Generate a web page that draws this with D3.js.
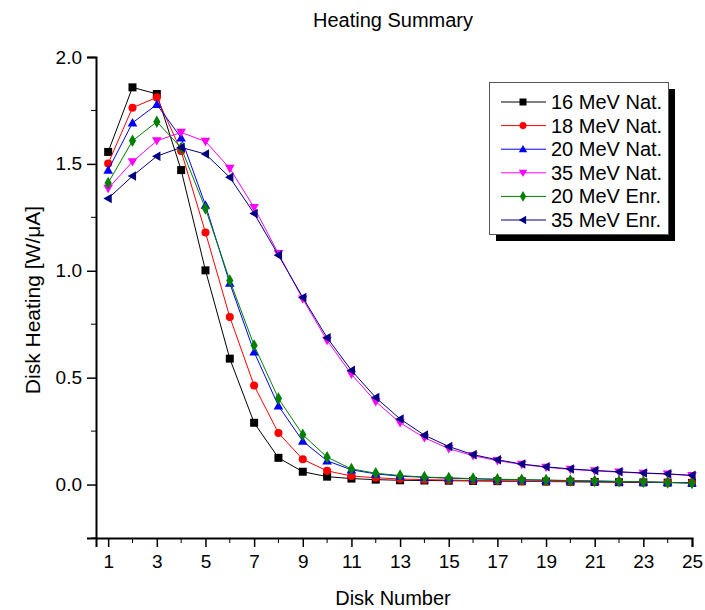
<!DOCTYPE html>
<html lang="en">

<head>
    <meta charset="UTF-8">
    <title>Heating Summary</title>
    <script src="https://cdn.jsdelivr.net/npm/d3@7/dist/d3.min.js"></script>
    <style>
        * {
            margin: 0;
        }

        body {
            background: #fff;
            font-family: Arial, "Liberation Sans", sans-serif;
        }
    </style>
</head>

<body>
    <div id="chart"></div>
    <script>
        // disk numbers 1..25
        var disks = d3.range(1, 26);

        var nat16 = [1.556, 1.858, 1.827, 1.471, 1.002, 0.589, 0.289, 0.125, 0.060, 0.037, 0.028, 0.023, 0.020, 0.019, 0.018, 0.017, 0.016, 0.015, 0.014, 0.013, 0.012, 0.011, 0.010, 0.009, 0.008];
        var nat18 = [1.502, 1.763, 1.811, 1.560, 1.179, 0.784, 0.463, 0.241, 0.118, 0.064, 0.040, 0.032, 0.026, 0.023, 0.021, 0.019, 0.018, 0.016, 0.015, 0.014, 0.013, 0.012, 0.011, 0.010, 0.009];
        var nat20 = [1.471, 1.692, 1.778, 1.622, 1.307, 0.942, 0.620, 0.368, 0.203, 0.111, 0.069, 0.050, 0.039, 0.034, 0.030, 0.027, 0.024, 0.022, 0.020, 0.018, 0.016, 0.014, 0.012, 0.010, 0.008];
        var nat35 = [1.385, 1.510, 1.608, 1.647, 1.605, 1.479, 1.296, 1.080, 0.868, 0.674, 0.516, 0.388, 0.289, 0.219, 0.168, 0.135, 0.112, 0.094, 0.081, 0.071, 0.064, 0.058, 0.053, 0.049, 0.042];
        var enr20 = [1.411, 1.608, 1.697, 1.575, 1.291, 0.955, 0.651, 0.403, 0.233, 0.128, 0.073, 0.053, 0.042, 0.035, 0.031, 0.028, 0.025, 0.023, 0.021, 0.019, 0.017, 0.015, 0.013, 0.010, 0.007];
        var enr35 = [1.338, 1.443, 1.536, 1.577, 1.546, 1.437, 1.268, 1.073, 0.875, 0.687, 0.534, 0.407, 0.307, 0.231, 0.178, 0.140, 0.116, 0.096, 0.083, 0.073, 0.066, 0.060, 0.054, 0.050, 0.043];

        var seriesNames = ["16 MeV Nat.", "18 MeV Nat.", "20 MeV Nat.", "35 MeV Nat.", "20 MeV Enr.", "35 MeV Enr."];
        var seriesValues = [nat16, nat18, nat20, nat35, enr20, enr35];
        var seriesColors = ["#000000", "#ff0000", "#0000ff", "#ff00ff", "#008000", "#000080"];
        var seriesSymbols = ["square", "circle", "up", "down", "diamond", "left"];

        var xTicks = [1, 3, 5, 7, 9, 11, 13, 15, 17, 19, 21, 23, 25];
        var yTicks = [0.0, 0.5, 1.0, 1.5, 2.0];

        var width = 705, height = 610;

        var x = d3.scaleLinear().domain([0.5, 25]).range([96, 692]);
        var y = d3.scaleLinear().domain([-0.25, 2.0]).range([538, 57]);

        var svg = d3.select("#chart")
            .append("svg")
            .attr("width", width)
            .attr("height", height);

        // title
        svg.append("text")
            .attr("x", 393)
            .attr("y", 27)
            .attr("text-anchor", "middle")
            .style("font-size", "20px")
            .text("Heating Summary");

        // x axis (major ticks labelled, minor ticks on even disks)
        var xAxis = svg.append("g")
            .attr("transform", "translate(0,538)")
            .call(d3.axisBottom(x).tickValues(xTicks).tickFormat(d3.format("d")).tickSizeOuter(0).tickSize(9).tickPadding(8));
        xAxis.append("g")
            .selectAll("line")
            .data(d3.range(2, 25, 2))
            .enter()
            .append("line")
            .attr("x1", function (d) { return x(d); })
            .attr("x2", function (d) { return x(d); })
            .attr("y1", 0)
            .attr("y2", 5)
            .attr("stroke", "#000");

        // y axis
        var yAxis = svg.append("g")
            .attr("transform", "translate(96,0)")
            .call(d3.axisLeft(y).tickValues(yTicks).tickFormat(d3.format(".1f")).tickSizeOuter(0).tickSize(9).tickPadding(5));
        yAxis.append("g")
            .selectAll("line")
            .data([-0.25, 0.25, 0.75, 1.25, 1.75])
            .enter()
            .append("line")
            .attr("x1", 0)
            .attr("x2", -5)
            .attr("y1", function (d) { return y(d); })
            .attr("y2", function (d) { return y(d); })
            .attr("stroke", "#000");

        svg.selectAll(".domain").attr("stroke", "#000").attr("stroke-width", 2);
        svg.selectAll(".tick line").attr("stroke-width", 1.5);
        svg.selectAll(".tick text")
            .style("font-size", "19px")
            .style("font-family", "Arial, 'Liberation Sans', sans-serif")
            .attr("fill", "#000");

        // axis titles
        svg.append("text")
            .attr("x", 393)
            .attr("y", 605)
            .attr("text-anchor", "middle")
            .style("font-size", "20px")
            .text("Disk Number");

        svg.append("text")
            .attr("transform", "translate(40,300) rotate(-90)")
            .attr("text-anchor", "middle")
            .style("font-size", "21px")
            .text("Disk Heating [W/μA]");

        // symbol shapes
        function symbolPath(type, s) {
            if (type === "square") return d3.symbol().type(d3.symbolSquare).size(s * s)();
            if (type === "circle") return d3.symbol().type(d3.symbolCircle).size(s * s * 0.8)();
            if (type === "diamond") return d3.symbol().type(d3.symbolDiamond).size(s * s * 0.7)();
            var h = s * 0.6;
            if (type === "up") return "M0," + (-h) + "L" + h + "," + h * 0.75 + "L" + (-h) + "," + h * 0.75 + "Z";
            if (type === "down") return "M0," + h + "L" + h + "," + (-h * 0.75) + "L" + (-h) + "," + (-h * 0.75) + "Z";
            if (type === "left") return "M" + (-h) + ",0L" + h * 0.75 + "," + (-h) + "L" + h * 0.75 + "," + h + "Z";
        }

        var line = d3.line()
            .x(function (d) { return x(d[0]); })
            .y(function (d) { return y(d[1]); });

        seriesValues.forEach(function (vals, i) {
            var pts = disks.map(function (d, j) { return [d, vals[j]]; });
            var g = svg.append("g");
            g.append("path")
                .datum(pts)
                .attr("fill", "none")
                .attr("stroke", seriesColors[i])
                .attr("stroke-width", 1)
                .attr("d", line);
            g.selectAll("path.pt")
                .data(pts)
                .enter()
                .append("path")
                .attr("class", "pt")
                .attr("transform", function (d) { return "translate(" + x(d[0]) + "," + y(d[1]) + ")"; })
                .attr("d", symbolPath(seriesSymbols[i], 8))
                .attr("fill", seriesColors[i]);
        });

        // legend with shadow
        var lg = svg.append("g");
        lg.append("rect")
            .attr("x", 496).attr("y", 89)
            .attr("width", 179).attr("height", 152)
            .attr("fill", "#000");
        lg.append("rect")
            .attr("x", 489.5).attr("y", 82.5)
            .attr("width", 179).attr("height", 152)
            .attr("fill", "#fff")
            .attr("stroke", "#555")
            .attr("stroke-width", 1);

        seriesNames.forEach(function (name, i) {
            var ly = 102 + i * 23.6;
            lg.append("line")
                .attr("x1", 501).attr("x2", 546)
                .attr("y1", ly).attr("y2", ly)
                .attr("stroke", seriesColors[i])
                .attr("stroke-width", 1);
            lg.append("path")
                .attr("transform", "translate(523," + ly + ")")
                .attr("d", symbolPath(seriesSymbols[i], 7))
                .attr("fill", seriesColors[i]);
            lg.append("text")
                .attr("x", 551)
                .attr("y", ly + 7)
                .style("font-size", "20px")
                .text(name);
        });
    </script>
</body>

</html>
